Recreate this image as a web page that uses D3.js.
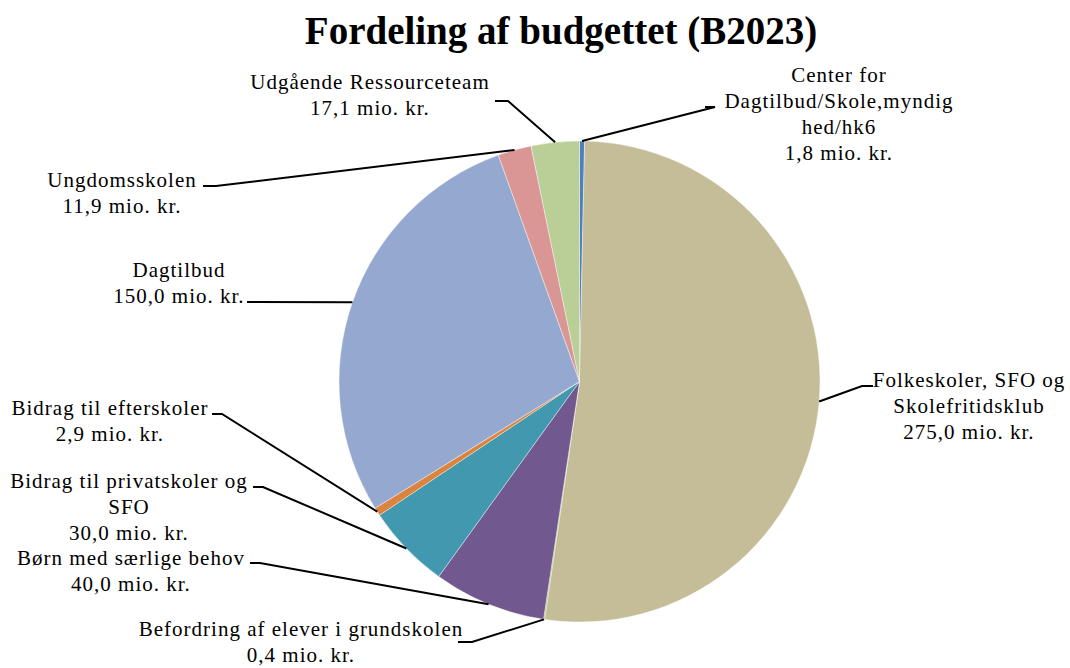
<!DOCTYPE html>
<html>
<head>
<meta charset="utf-8">
<script src="https://cdn.jsdelivr.net/npm/d3@7/dist/d3.min.js"></script>
<style>
  html, body { margin: 0; padding: 0; background: #fff; }
  svg { display: block; }
  text { font-family: "Liberation Serif", "Times New Roman", serif; fill: #000; }
</style>
</head>
<body>
<svg id="chart" width="1070" height="668"></svg>
<script>
// ---- data ----
const titleText = "Fordeling af budgettet (B2023)";
const categories = [
  "Center for Dagtilbud/Skole,myndighed/hk6",
  "Folkeskoler, SFO og Skolefritidsklub",
  "Befordring af elever i grundskolen",
  "Børn med særlige behov",
  "Bidrag til privatskoler og SFO",
  "Bidrag til efterskoler",
  "Dagtilbud",
  "Ungdomsskolen",
  "Udgående Ressourceteam"
];
const values = [1.8, 275.0, 0.4, 40.0, 30.0, 2.9, 150.0, 11.9, 17.1];
const labelLines = [
  ["Center for", "Dagtilbud/Skole,myndig", "hed/hk6"],
  ["Folkeskoler, SFO og", "Skolefritidsklub"],
  ["Befordring af elever i grundskolen"],
  ["Børn med særlige behov"],
  ["Bidrag til privatskoler og", "SFO"],
  ["Bidrag til efterskoler"],
  ["Dagtilbud"],
  ["Ungdomsskolen"],
  ["Udgående Ressourceteam"]
];
const colors = ["#4F81BD", "#C4BD97", "#9BBB59", "#71588F", "#4198AF", "#DB843D", "#95A9D0", "#D99694", "#BACE97"];

// ---- layout (label boxes & leader knees) ----
const labelLayout = [
  { cx: 839, y0: 82,  lx0: 705, lx1: 715, ly: 107 },
  { cx: 969, y0: 387, lx0: 873, lx1: 862, ly: 386 },
  { cx: 301, y0: 636, lx0: 458, lx1: 472, ly: 642 },
  { cx: 131, y0: 565, lx0: 250, lx1: 260, ly: 563 },
  { cx: 129, y0: 488, lx0: 253, lx1: 263, ly: 487 },
  { cx: 110, y0: 415, lx0: 212, lx1: 222, ly: 414 },
  { cx: 179, y0: 277, lx0: 247, lx1: 252, ly: 302 },
  { cx: 122, y0: 187, lx0: 203, lx1: 216, ly: 186 },
  { cx: 370, y0: 89,  lx0: 495, lx1: 508, ly: 101 }
];
const fmt = v => d3.format(".1f")(v).replace(".", ",") + " mio. kr.";

const svg = d3.select("#chart");
const cx = 579.5, cy = 381.5, R = 240.5;
const lineH = 26;

svg.append("text")
  .attr("x", 561).attr("y", 44)
  .attr("text-anchor", "middle")
  .style("font-size", "39px").style("font-weight", "bold")
  .text(titleText);

const pie = d3.pie().sort(null).value(d => d)(values);
const arc = d3.arc().innerRadius(0).outerRadius(R);

const g = svg.append("g").attr("transform", `translate(${cx},${cy})`);
g.selectAll("path").data(pie).join("path")
  .attr("d", arc)
  .attr("fill", (d, i) => colors[i])
  .attr("stroke", "#fff").attr("stroke-width", 0.4);

// leader lines
pie.forEach((d, i) => {
  const L = labelLayout[i];
  const mid = (d.startAngle + d.endAngle) / 2;
  const px = cx + R * Math.sin(mid), py = cy - R * Math.cos(mid);
  svg.append("polyline")
    .attr("points", `${L.lx0},${L.ly} ${L.lx1},${L.ly} ${px},${py}`)
    .attr("fill", "none").attr("stroke", "#000").attr("stroke-width", 2);
});

// labels
pie.forEach((d, i) => {
  const L = labelLayout[i];
  const lines = labelLines[i].concat([fmt(values[i])]);
  const t = svg.append("text")
    .attr("text-anchor", "middle")
    .style("font-size", "21px").style("letter-spacing", "1px");
  lines.forEach((s, k) => {
    t.append("tspan").attr("x", L.cx).attr("y", L.y0 + k * lineH).text(s);
  });
});
</script>
</body>
</html>
